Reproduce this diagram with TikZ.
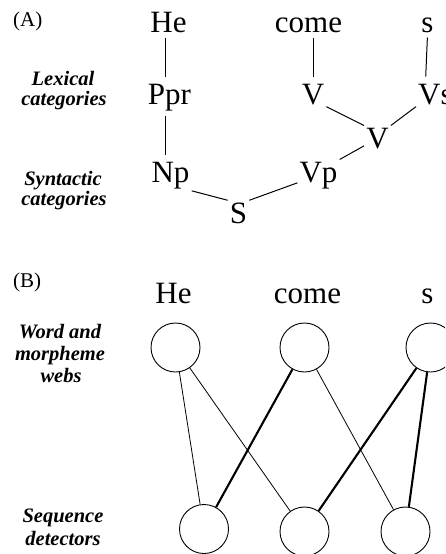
\documentclass[tikz,border=0pt]{standalone}
\usepackage{fontspec}
\setmainfont{Liberation Serif}
\begin{document}
\begin{tikzpicture}[x=1pt,y=-1pt,
  big/.style={font=\fontsize{31}{31}\selectfont, inner sep=2pt, anchor=base},
  lab/.style={font=\fontsize{20.5}{20.5}\selectfont\bfseries\itshape, inner sep=0pt, anchor=base},
  panel/.style={font=\fontsize{21}{21}\selectfont, inner sep=0pt, anchor=base west},
  web/.style={circle, draw, line width=0.9pt, minimum size=49pt, inner sep=0pt},
  tree/.style={line width=1pt},
  vert/.style={tree, shorten <=3pt, shorten >=5pt},
  weak/.style={line width=0.8pt},
  strong/.style={line width=2.1pt}]
\useasboundingbox (0,0) rectangle (445,554);
\clip (0,0) rectangle (445,554);
% ---------- Panel A ----------
\node[panel] (pA) at (13,27) {(A)};
\node[lab] (lexa) at (63,85) {Lexical};
\node[lab] (lexb) at (64,105) {categories};
\node[lab] (syna) at (63,185) {Syntactic};
\node[lab] (synb) at (64,205) {categories};

\node[big] (He) at (168.5,32) {He};
\node[big] (come) at (308.5,32) {come};
\node[big] (s) at (427.5,32) {s};
\node[big] (Ppr) at (169.5,104) {Ppr};
\node[big] (V1) at (313,104) {V};
\node[big, anchor=base west] (Vs) at (416,104) {Vs};
\node[big] (Vm) at (377.5,148) {V};
\node[big] (Np) at (170.5,182) {Np};
\node[big] (Vp) at (318.5,182) {Vp};
\node[big] (S) at (238.5,223) {S};

\draw[vert] ([xshift=-3.5pt]He.south) -- ([xshift=-4.5pt]Ppr.north);
\draw[vert] ([xshift=-4.5pt]Ppr.south) -- ([xshift=-5.5pt]Np.north);
\draw[vert] ([xshift=4.5pt]come.south) -- (V1.north);
\draw[vert] (s.south) -- ([xshift=-2pt]Vs.north -| s.south);
\draw[tree] (V1.south east) -- (Vm.north west);
\draw[tree] (Vs.south west) -- (Vm.north east);
\draw[tree] (Vm.-150) -- (Vp.north east);
\draw[tree] (Np.south east) -- (S.north west);
\draw[tree] (S.north east) -- (Vp.-160);

% ---------- Panel B ----------
\node[panel] (pB) at (13,287) {(B)};
\node[lab] (wa) at (60,338) {Word and};
\node[lab] (wb) at (60,360) {morpheme};
\node[lab] (wc) at (61,382) {webs};
\node[lab] (sa) at (63,522) {Sequence};
\node[lab] (sb) at (63,545) {detectors};

\node[big] (He2) at (173.5,303) {He};
\node[big] (come2) at (307.5,303) {come};
\node[big] (s2) at (427.5,303) {s};

\node[web] (w1) at (175.5,347.5) {};
\node[web] (w2) at (304.5,347.5) {};
\node[web] (w3) at (430.5,347.5) {};
\node[web] (d1) at (204,529) {};
\node[web] (d2) at (304.5,531.5) {};
\node[web] (d3) at (405.5,531.5) {};

\draw[weak] (w1) -- (d1);
\draw[weak] (w1) -- (d2);
\draw[weak] (w2) -- (d3);
\draw[strong] (w2) -- (d1);
\draw[strong] (w3) -- (d2);
\draw[strong] (w3) -- (d3);
\end{tikzpicture}
\end{document}
